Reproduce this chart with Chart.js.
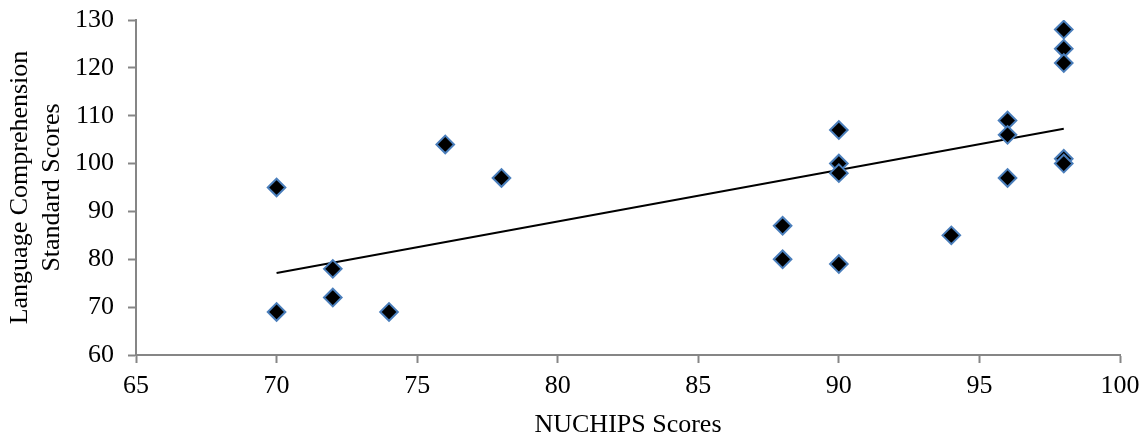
<!DOCTYPE html>
<html>
<head>
<meta charset="utf-8">
<script src="https://cdn.jsdelivr.net/npm/chart.js@4.4.1/dist/chart.umd.min.js"></script>
<style>
html,body{margin:0;padding:0;background:#fff;}
#wrap{width:1147px;height:439px;position:relative;}
</style>
</head>
<body>
<div id="wrap"><canvas id="c" width="1147" height="439"></canvas></div>
<script>
const nuchipsScores = [70, 70, 72, 72, 74, 76, 78, 88, 88, 90, 90, 90, 90, 94, 96, 96, 96, 98, 98, 98, 98, 98];
const languageScores = [95, 69, 78, 72, 69, 104, 97, 87, 80, 107, 100, 98, 79, 85, 109, 106, 97, 128, 124, 121, 101, 100];
const xTicks = [65, 70, 75, 80, 85, 90, 95, 100];
const yTicks = [60, 70, 80, 90, 100, 110, 120, 130];
const xTitle = 'NUCHIPS Scores';
const yTitle = ['Language Comprehension', 'Standard Scores'];

// Linear trendline (least squares) over the observed range
const n = nuchipsScores.length;
const mx = nuchipsScores.reduce((a, b) => a + b, 0) / n;
const my = languageScores.reduce((a, b) => a + b, 0) / n;
let sxy = 0, sxx = 0;
for (let i = 0; i < n; i++) {
  sxy += (nuchipsScores[i] - mx) * (languageScores[i] - my);
  sxx += (nuchipsScores[i] - mx) ** 2;
}
const slope = sxy / sxx;
const intercept = my - slope * mx;
const xMin = Math.min(...nuchipsScores), xMax = Math.max(...nuchipsScores);
const trend = [{x: xMin, y: intercept + slope * xMin}, {x: xMax, y: intercept + slope * xMax}];

const points = nuchipsScores.map((x, i) => ({x, y: languageScores[i]}));
const font = 'Liberation Serif';
const axisColor = '#868686';

new Chart(document.getElementById('c'), {
  type: 'scatter',
  data: {
    datasets: [
      {
        type: 'line',
        data: trend,
        borderColor: '#000',
        borderWidth: 2,
        pointRadius: 0,
        fill: false,
        order: 2
      },
      {
        data: points,
        pointStyle: 'rectRot',
        pointRadius: 8.8,
        pointBackgroundColor: '#000',
        pointBorderColor: '#4a7ebb',
        pointBorderWidth: 2,
        order: 1
      }
    ]
  },
  options: {
    responsive: false,
    animation: false,
    events: [],
    layout: {padding: {left: 0, right: 27, top: 20, bottom: 0}},
    plugins: {legend: {display: false}, tooltip: {enabled: false}},
    scales: {
      x: {
        type: 'linear',
        min: 65, max: 100,
        afterBuildTicks: s => { s.ticks = xTicks.map(v => ({value: v})); },
        afterFit: s => { s.height = 84; s.paddingLeft = 0; s.paddingRight = 0; },
        grid: {display: true, drawOnChartArea: false, drawTicks: true, tickLength: 8, tickColor: axisColor, tickWidth: 2},
        border: {display: true, color: axisColor, width: 2},
        ticks: {color: '#000', font: {family: font, size: 26}, padding: 8},
        title: {display: true, text: xTitle, color: '#000', font: {family: font, size: 26, lineHeight: 1.1}, padding: {top: 0, bottom: 0}}
      },
      y: {
        type: 'linear',
        min: 60, max: 130,
        afterBuildTicks: s => { s.ticks = yTicks.map(v => ({value: v})); },
        afterFit: s => { s.width = 136; s.paddingTop = 0; s.paddingBottom = 0; },
        grid: {display: true, drawOnChartArea: false, drawTicks: true, tickLength: 8, tickColor: axisColor, tickWidth: 2},
        border: {display: true, color: axisColor, width: 2},
        ticks: {color: '#000', font: {family: font, size: 26}, padding: 14},
        title: {display: true, text: yTitle, color: '#000', font: {family: font, size: 26, lineHeight: 1.2}, padding: {top: 5, bottom: 0}}
      }
    }
  }
});
</script>
</body>
</html>
